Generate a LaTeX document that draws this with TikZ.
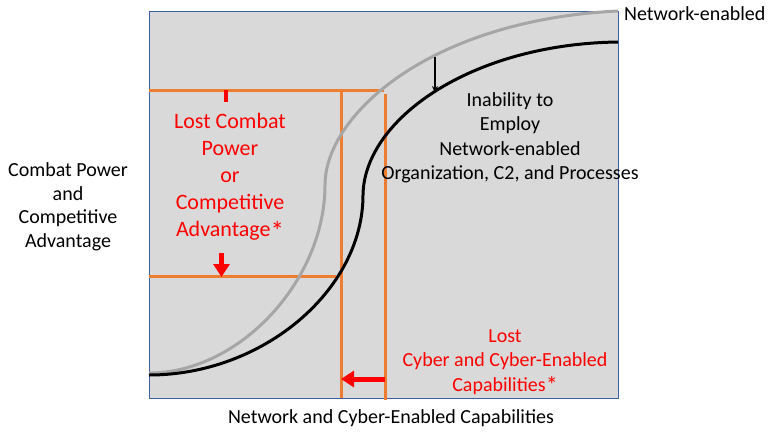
\documentclass[tikz,border=0pt]{standalone}
\usepackage{fontspec}
\setmainfont{Carlito}
\usetikzlibrary{arrows.meta}
\definecolor{boxfill}{HTML}{D9D9D9}
\definecolor{boxline}{HTML}{3F60A0}
\definecolor{org}{HTML}{ED7D31}
\definecolor{curvegray}{HTML}{A6A6A6}
\definecolor{lostred}{HTML}{FF0000}
\tikzset{
  orangeline/.style={draw=org, line width=3pt},
  curveline/.style={line width=3pt},
  redarrow/.style={draw=lostred, line width=5pt, -{Triangle[width=16pt,length=13pt]}},
  lbl/.style={inner sep=0pt, align=center, font=\fontsize{20}{24.5}\selectfont},
  redlbl/.style={inner sep=0pt, align=center, text=lostred},
}
\begin{document}
\begin{tikzpicture}[x=1pt,y=-1pt]
\useasboundingbox (0,0) rectangle (770,431);
% frame
\filldraw[fill=boxfill, draw=boxline, line width=1pt] (149,11) rectangle (618,398);
% orange guide lines
\coordinate (tl) at (149,90);
\coordinate (tr) at (384,90);
\draw[orangeline] (tl) -- (tr);
\coordinate (bl) at (149,276.5);
\coordinate (br) at (336,276.5);
\draw[orangeline] (bl) -- (br);
\coordinate (v1t) at (341,90);
\coordinate (v1b) at (341,398);
\draw[orangeline] (v1t) -- (v1b);
\coordinate (v2t) at (385.7,94);
\coordinate (v2b) at (385.7,400);
\draw[orangeline] (v2t) -- (v2b);
% curves
\draw[curveline, draw=curvegray] (149,373) .. controls (240,373) and (325,280) .. (325,185)
  .. controls (325,115) and (430,20) .. (618,11);
\draw[curveline, draw=black] (149,375) .. controls (263,375) and (363,290) .. (363,195)
  .. controls (364,120) and (470,44) .. (618,42);
% black arrow
\coordinate (ka) at (435,57);
\coordinate (kb) at (435,93);
\draw[line width=1.5pt, -{Stealth[width=6pt,length=7pt]}] (ka) -- (kb);
% red marks
\fill[lostred] (223.5,90) rectangle (228,101.5);
\coordinate (ra) at (221.5,253);
\coordinate (rb) at (221.5,277);
\draw[redarrow] (ra) -- (rb);
\coordinate (la) at (385,379);
\coordinate (lb) at (341,379);
\draw[redarrow] (la) -- (lb);
% labels
\node[lbl, anchor=west] (top) at (624,14) {Network-enabled};
\node[lbl, font=\fontsize{20}{23.5}\selectfont] (yaxis) at (68,207) {Combat Power\\and\\Competitive\\Advantage};
\node[lbl] (xaxis) at (391,418) {Network and Cyber-Enabled Capabilities};
\node[lbl] (inab) at (510,138) {Inability to\\Employ\\Network-enabled\\Organization, C2, and Processes};
\node[redlbl, font=\fontsize{22}{27}\selectfont] (lcp) at (230,177) {Lost Combat\\Power\\or\\Competitive\\Advantage\raisebox{-3.5pt}{\fontsize{27}{27}\selectfont*}};
\node[redlbl, font=\fontsize{20}{24.3}\selectfont] (lcc) at (505,362) {Lost\\Cyber and Cyber-Enabled\\Capabilities\raisebox{-2.5pt}{\fontsize{24}{24}\selectfont*}};
\end{tikzpicture}
\end{document}
